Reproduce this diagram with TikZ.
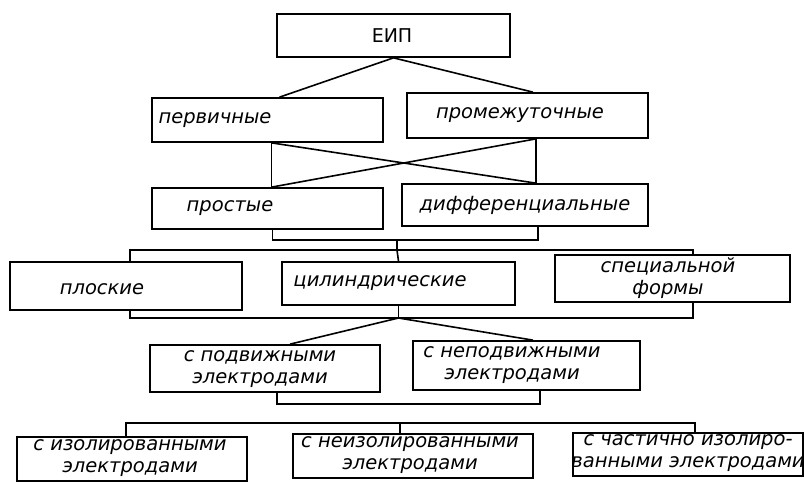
\documentclass[tikz,border=0pt]{standalone}
\usepackage{fontspec}
\setmainfont{DejaVu Sans}
\begin{document}
\begin{tikzpicture}[x=1pt,y=-1pt,
  box/.style={draw, line width=1.7pt, rectangle, inner sep=0pt},
  lbl/.style={inner sep=0pt, font=\fontsize{19.5}{22.5}\selectfont\itshape, align=center},
  conn/.style={line width=1.6pt}]
\useasboundingbox (0,0) rectangle (804,483);
% boxes
\node[box, minimum width=233pt, minimum height=43pt] (e)  at (393.5,35.5) {};
\node[box, minimum width=231pt, minimum height=44pt] (p1) at (267.5,120) {};
\node[box, minimum width=241pt, minimum height=45pt] (p2) at (527.5,115.5) {};
\node[box, minimum width=231pt, minimum height=41pt] (s1) at (267.5,208.5) {};
\node[box, minimum width=246pt, minimum height=42pt] (s2) at (525,205) {};
\node[box, minimum width=232pt, minimum height=48pt] (t1) at (126,286) {};
\node[box, minimum width=233pt, minimum height=43pt] (t2) at (398.5,283.5) {};
\node[box, minimum width=235pt, minimum height=47pt] (t3) at (672.5,278.5) {};
\node[box, minimum width=230pt, minimum height=47pt] (m1) at (265,368.5) {};
\node[box, minimum width=227pt, minimum height=49pt] (m2) at (526.5,365.5) {};
\node[box, minimum width=230pt, minimum height=44pt] (b1) at (132,459) {};
\node[box, minimum width=240pt, minimum height=44pt] (b2) at (413,456) {};
\node[box, minimum width=230pt, minimum height=43pt] (b3) at (688,454.5) {};
% texts
\node[lbl, font=\fontsize{19}{22}\selectfont] (et) at (392,36) {ЕИП};
\node[lbl] (p1t) at (215,120) {первичные};
\node[lbl] (p2t) at (520,115) {промежуточные};
\node[lbl] (s1t) at (230,208) {простые};
\node[lbl] (s2t) at (525,205) {дифференциальные};
\node[lbl] (t1t) at (102,289) {плоские};
\node[lbl] (t2t) at (380,283) {цилиндрические};
\node[lbl] (t3t) at (668,278) {специальной\\формы};
\node[lbl] (m1t) at (260,369) {с подвижными\\электродами};
\node[lbl] (m2t) at (512,365) {с неподвижными\\электродами};
\node[lbl] (b1t) at (130,458) {с изолированными\\электродами};
\node[lbl] (b2t) at (410,455) {с неизолированными\\электродами};
\node[lbl] (b3t) at (688,453) {с частично изолиро-\\ванными электродами};
% junction points
\coordinate (j1) at (397,240);
\coordinate (j2) at (397,250);
\coordinate (j3) at (398.5,318);
\coordinate (j4) at (400,423);
% connectors
\draw[conn] (e.south) -- ([xshift=12pt]p1.north);
\draw[conn] (e.south) -- ([xshift=5.5pt]p2.north);
\draw[conn] ([xshift=4pt]p1.south) -- ([xshift=4pt]s1.north);
\draw[conn] ([xshift=8.5pt]p2.south) -- ([xshift=11pt]s2.north);
\draw[conn] ([xshift=4pt]p1.south) -- ([xshift=11pt]s2.north);
\draw[conn] ([xshift=8.5pt]p2.south) -- ([xshift=4pt]s1.north);
\draw[conn] ([xshift=5pt]s1.south) |- (j1) -| ([xshift=13pt]s2.south);
\draw[conn] (j1) -- (j2);
\draw[conn] ([xshift=4pt]t1.north) |- (j2) -| ([xshift=20.5pt]t3.north);
\draw[conn] (j2) -- (t2.north);
\draw[conn] ([xshift=4pt]t1.south) |- (j3) -| ([xshift=20.5pt]t3.south);
\draw[conn] (t2.south) -- (j3);
\draw[conn] (j3) -- ([xshift=25pt]m1.north);
\draw[conn] (j3) -- ([xshift=6.5pt]m2.north);
\draw[conn] ([xshift=12pt]m1.south) -- ++(0,11) -| ([xshift=13.5pt]m2.south);
\draw[conn] ([xshift=-6pt]b1.north) |- (j4) -| ([xshift=7pt]b3.north);
\draw[conn] (j4) -- ([xshift=-13pt]b2.north);
\end{tikzpicture}
\end{document}
